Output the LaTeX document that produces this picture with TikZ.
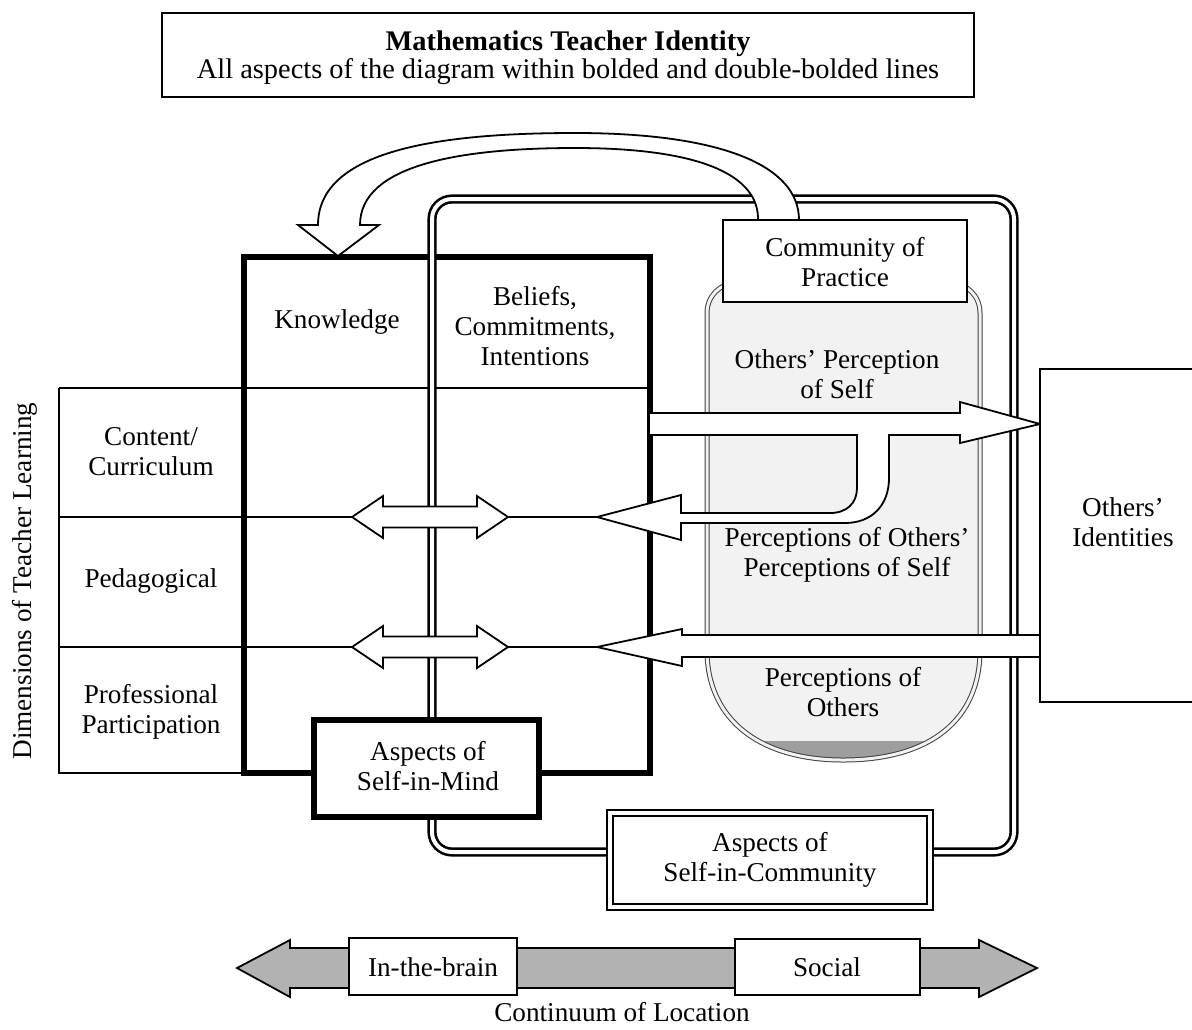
\documentclass[tikz,border=0pt]{standalone}
\usepackage{fontspec}
\setmainfont{Liberation Serif}
\begin{document}
\begin{tikzpicture}[x=0.5pt,y=-0.5pt,
    txt/.style={font=\fontsize{13.6}{15}\selectfont, align=center, inner sep=0pt},
    tline/.style={line width=0.9pt},
    blockarrow/.style={draw, line width=0.9pt, fill=white, line join=miter},
    dblline/.style={line width=1.3pt, double=white, double distance=2pt}]
\useasboundingbox (0,0) rectangle (1192,1029);

% title box
\draw[tline] (162,13) rectangle (974,97);
\node[txt, font=\fontsize{14.2}{15}\selectfont\bfseries] (title) at (568,44) {Mathematics Teacher Identity};
\node[txt, font=\fontsize{14.2}{15}\selectfont] (subtitle) at (568,72) {All aspects of the diagram within bolded and double-bolded lines};

% dimensions table
\draw[tline] (59,388) -- (650,388);
\draw[tline] (59,388) -- (59,773) -- (244,773);
\draw[tline] (59,517) -- (597,517);
\draw[tline] (59,647) -- (597,647);

% the jar
\def\jar{(707,650) -- (707,313) .. controls (707,296) and (720,283) .. (737,283) -- (950,283)
  .. controls (967,283) and (980,296) .. (980,313) -- (980,650)
  .. controls (980,720) and (930,760) .. (843,760) .. controls (760,760) and (707,720) .. (707,650) -- cycle}
\fill[black!5] \jar;
\begin{scope}
  \clip (690,741) rectangle (1000,770);
  \fill[black!38] \jar;
\end{scope}
\draw[draw=black!75, line width=0.5pt, double=black!5, double distance=1.5pt] \jar;

% self-in-mind and self-in-community outlines
\draw[line width=3pt, line join=miter] (244,257) rectangle (650,773);
\draw[dblline, rounded corners=10pt] (432,199) rectangle (1014,852);

% arrows
\draw[blockarrow] (650,413) -- (960,413) -- (960,402) -- (1040,424) -- (960,443) -- (960,435) -- (889,435)
  -- (889,478) .. controls (889,505) and (872,523) .. (845,523) -- (681,523) -- (681,540) -- (597,517)
  -- (681,495) -- (681,513) -- (830,513) .. controls (847,513) and (857,503) .. (857,488) -- (857,435) -- (650,435);
\draw[blockarrow] (1040,635) -- (682,635) -- (682,629) -- (597,647) -- (682,666) -- (682,657) -- (1040,657);
\foreach \yy in {517,647}
  \draw[blockarrow] (352,\yy) -- (383,\yy-21) -- (383,\yy-10.5) -- (477,\yy-10.5) -- (477,\yy-21) -- (508,\yy)
    -- (477,\yy+21) -- (477,\yy+10.5) -- (383,\yy+10.5) -- (383,\yy+21) -- cycle;
\draw[blockarrow] (318,225) .. controls (318,150) and (440,133) .. (575,133) .. controls (720,133) and (799,165) .. (799,220)
  -- (758,220) .. controls (759,175) and (700,148) .. (575,148) .. controls (460,148) and (360,165) .. (360,225)
  -- (379,225) -- (338,256) -- (298,225) -- cycle;

% boxes
\draw[tline, fill=white] (723,220) rectangle (967,302);
\node[txt] (community) at (845,262) {Community of\\Practice};
\draw[tline, fill=white] (1040,369) rectangle (1215,702);
\node[txt] (identities) at (1123,522) {Others’\\Identities};
\draw[line width=2.6pt, fill=white, line join=miter] (314,720) rectangle (539,817);
\node[txt] (selfmind) at (428,766) {Aspects of\\Self-in-Mind};
\draw[line width=1.2pt, double=white, double distance=1.8pt, fill=white] (610,813) rectangle (930,907);
\node[txt] (selfcomm) at (770,860) {Aspects of\\Self-in-Community};

% labels
\node[txt] (knowledge) at (337,322) {Knowledge};
\node[txt] (beliefs) at (535,326) {Beliefs,\\Commitments,\\Intentions};
\node[txt] (perself) at (837,374) {Others’ Perception\\of Self};
\node[txt] (perothself) at (847,555) {Perceptions of Others’\\Perceptions of Self};
\node[txt] (perothers) at (843,692) {Perceptions of\\Others};
\node[txt] (content) at (151,452) {Content/\\Curriculum};
\node[txt] (pedagogical) at (151,581) {Pedagogical};
\node[txt] (professional) at (151,712) {Professional\\Participation};
\node[txt, rotate=90] (dimensions) at (25,581) {Dimensions of Teacher Learning};

% continuum of location
\draw[tline, fill=black!30] (237,968) -- (290,940) -- (290,948) -- (979,948) -- (979,940) -- (1037,968)
  -- (979,997) -- (979,988) -- (290,988) -- (290,997) -- cycle;
\draw[tline, fill=white] (349,938) rectangle (517,995);
\node[txt] (brain) at (433,967) {In-the-brain};
\draw[tline, fill=white] (735,939) rectangle (920,995);
\node[txt] (social) at (827,967) {Social};
\node[txt] (continuum) at (622,1012) {Continuum of Location};
\end{tikzpicture}
\end{document}
